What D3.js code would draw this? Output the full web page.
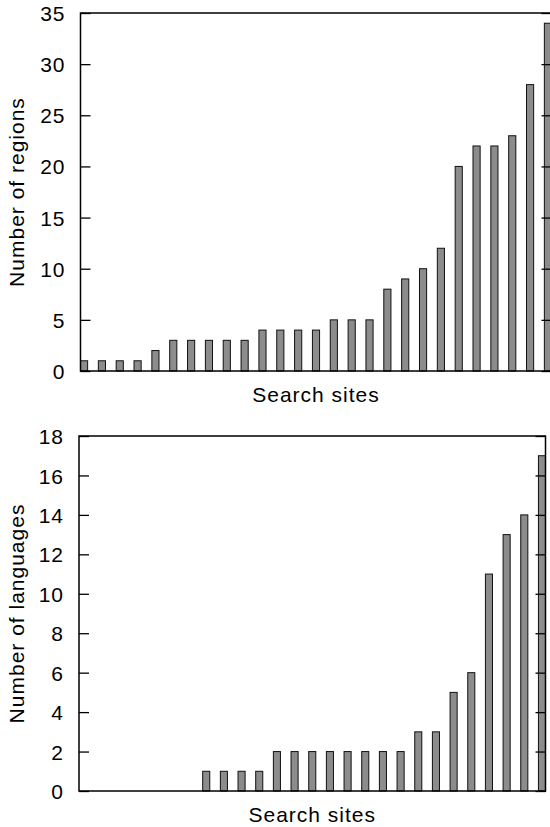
<!DOCTYPE html>
<html>
<head>
<meta charset="utf-8">
<script src="https://cdn.jsdelivr.net/npm/d3@7"></script>
<style>
  body { margin: 0; background: #fff; }
  text { font-family: "Liberation Sans", Arial, Helvetica, sans-serif; fill: #000; }
</style>
</head>
<body>
<script>

var width = 550,
  height = 827;

// one bar per search site, sorted ascending
var regions = [1, 1, 1, 1, 2, 3, 3, 3, 3, 3, 4, 4, 4, 4, 5, 5, 5, 8, 9, 10, 12, 20, 22, 22, 23, 28, 34];
var languages = [0, 0, 0, 0, 0, 0, 0, 1, 1, 1, 1, 2, 2, 2, 2, 2, 2, 2, 2, 3, 3, 5, 6, 11, 13, 14, 17];

var regionTicks = [0, 5, 10, 15, 20, 25, 30, 35];
var languageTicks = [0, 2, 4, 6, 8, 10, 12, 14, 16, 18];

var svg = d3.select("body").append("svg")
  .attr("width", width)
  .attr("height", height);

// top panel
drawPanel(regions, regionTicks, 35, "Number of regions",
  {left: 80.5, right: 551.5, top: 13, bottom: 371});

// bottom panel
drawPanel(languages, languageTicks, 18, "Number of languages",
  {left: 79, right: 545.5, top: 436, bottom: 791});


function drawPanel(values, ticks, maxY, ylabel, box) {
  var g = svg.append("g");

  var x = d3.scaleBand()
    .domain(d3.range(values.length))
    .range([box.left, box.right])
    .paddingInner(0.6)
    .paddingOuter(0)
    .align(0);

  var y = d3.scaleLinear()
    .domain([0, maxY])
    .range([box.bottom, box.top]);

  g.selectAll("rect.bar").data(values)
    .enter().append("rect")
    .attr("class", "bar")
    .attr("x", function(d, i){ return x(i); })
    .attr("y", function(d){ return y(d); })
    .attr("width", x.bandwidth())
    .attr("height", function(d){ return y(0) - y(d); })
    .attr("fill", "#8c8c8c")
    .attr("stroke", "#111")
    .attr("stroke-width", 1)
    .style("display", function(d){ return d > 0 ? null : "none"; });

  // left axis, ticks pointing inward
  var left = g.append("g")
    .attr("transform", "translate(" + box.left + ",0)")
    .call(d3.axisLeft(y).tickValues(ticks).tickSize(-10).tickPadding(15));
  left.select(".domain").remove();
  left.selectAll(".tick line").attr("stroke", "#000").attr("stroke-width", 1.3);
  left.selectAll(".tick text")
    .style("font-size", "21px")
    .style("letter-spacing", "1px")
    .attr("dy", "0.36em");

  // right axis, mirror ticks
  var right = g.append("g")
    .attr("transform", "translate(" + box.right + ",0)")
    .call(d3.axisRight(y).tickValues(ticks).tickSize(-10).tickFormat(""));
  right.select(".domain").remove();
  right.selectAll(".tick line").attr("stroke", "#000").attr("stroke-width", 1.3);

  // frame
  g.append("rect")
    .attr("x", box.left)
    .attr("y", box.top)
    .attr("width", box.right - box.left)
    .attr("height", box.bottom - box.top)
    .attr("fill", "none")
    .attr("stroke", "#000")
    .attr("stroke-width", 1.5);

  g.append("text")
    .attr("x", (box.left + box.right) / 2)
    .attr("y", box.bottom + 31)
    .attr("text-anchor", "middle")
    .style("font-size", "21px")
    .style("letter-spacing", "1px")
    .text("Search sites");

  g.append("text")
    .attr("transform", "translate(24," + ((box.top + box.bottom) / 2) + ") rotate(-90)")
    .attr("text-anchor", "middle")
    .style("font-size", "21px")
    .style("letter-spacing", "1px")
    .text(ylabel);
}
</script>
</body>
</html>
